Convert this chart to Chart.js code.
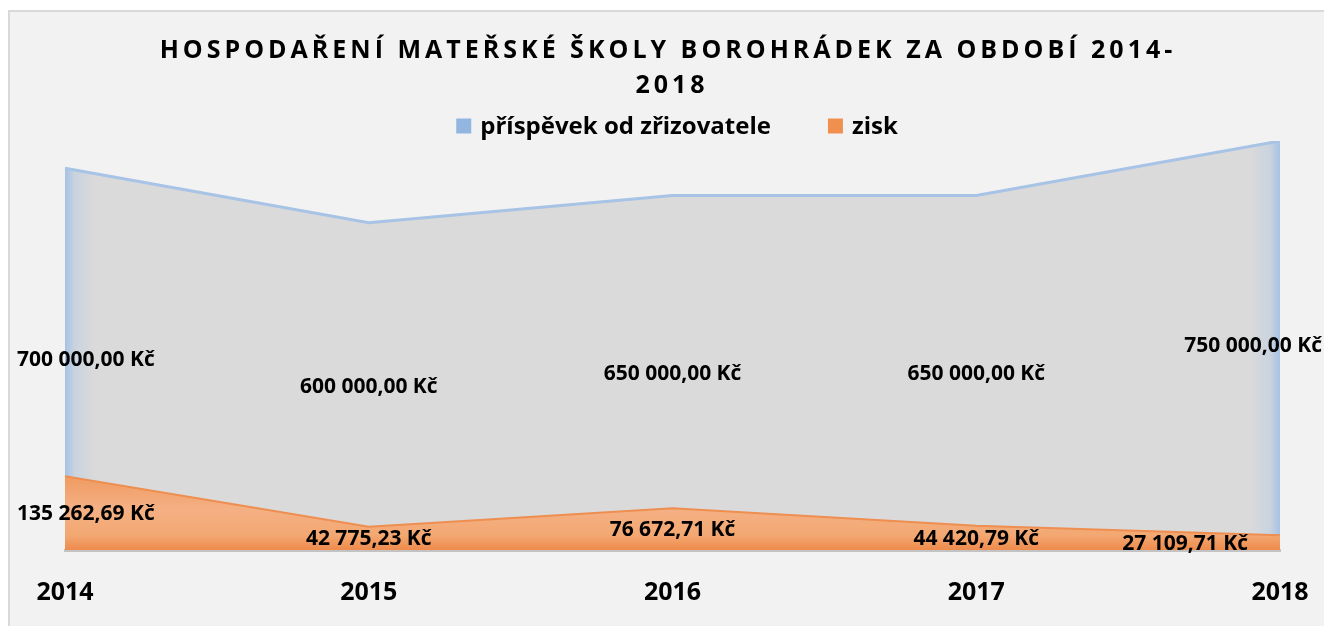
<!DOCTYPE html>
<html lang="cs">
<head>
<meta charset="UTF-8">
<title>Hospodaření MŠ Borohrádek</title>
<script src="https://cdn.jsdelivr.net/npm/chart.js"></script>
<style>
    html, body { margin: 0; padding: 0; background: #fff; overflow: hidden; }
    .box { position: absolute; left: 8px; top: 10px; width: 1320px; height: 620px;
           background: #f2f2f2; border-left: 2px solid #d9d9d9; border-top: 2px solid #d9d9d9; }
</style>
</head>
<body>
<div class="box">
    <canvas id="chart" width="1320" height="620"></canvas>
</div>
<script>
// data
const years = ['2014', '2015', '2016', '2017', '2018'];
const prispevek = [700000, 600000, 650000, 650000, 750000];
const zisk = [135262.69, 42775.23, 76672.71, 44420.79, 27109.71];
const titleLines = ['HOSPODAŘENÍ MATEŘSKÉ ŠKOLY BOROHRÁDEK ZA OBDOBÍ 2014-', '2018'];
const seriesNames = ['příspěvek od zřizovatele', 'zisk'];
const legendColors = ['#92b6df', '#f0904f'];

const FONT = '"Open Sans", sans-serif';

function kc(v) {
    let parts = v.toFixed(2).split('.');
    let whole = parts[0].replace(/\B(?=(\d{3})+(?!\d))/g, ' ');
    return whole + ',' + parts[1] + ' Kč';
}

function blueFill(c) {
    const ca = c.chart.chartArea;
    if (!ca) return '#dadada';
    const g = c.chart.ctx.createLinearGradient(ca.left, 0, ca.right, 0);
    g.addColorStop(0, '#a6c2e4');
    g.addColorStop(0.008, '#c9d3df');
    g.addColorStop(0.025, '#dadada');
    g.addColorStop(0.975, '#dadada');
    g.addColorStop(0.992, '#c9d3df');
    g.addColorStop(1, '#a6c2e4');
    return g;
}

function orangeFill(c) {
    const ca = c.chart.chartArea;
    if (!ca) return '#f4b084';
    const g = c.chart.ctx.createLinearGradient(0, ca.bottom - 75, 0, ca.bottom);
    g.addColorStop(0, '#f09a60');
    g.addColorStop(0.45, '#f4b084');
    g.addColorStop(0.8, '#f3a872');
    g.addColorStop(1, '#ee8b4c');
    return g;
}

// title with letter spacing + legend drawn by hand
const headerPlugin = {
    id: 'header',
    afterDraw(chart) {
        const ctx = chart.ctx;
        const cx = chart.width / 2;
        ctx.save();
        ctx.fillStyle = '#000';
        ctx.textAlign = 'center';
        ctx.textBaseline = 'middle';
        ctx.font = 'bold 25px ' + FONT;
        ctx.letterSpacing = '4px';
        ctx.fillText(titleLines[0], cx - 2, 39);
        ctx.fillText(titleLines[1], cx + 2, 74);
        ctx.letterSpacing = '0px';

        ctx.font = 'bold 24px ' + FONT;
        const box = 15, gap = 9, itemGap = 57;
        const widths = seriesNames.map(n => box + gap + ctx.measureText(n).width);
        const total = widths.reduce((a, b) => a + b, 0) + itemGap * (widths.length - 1);
        let x = cx + 7 - total / 2;
        const y = 114;
        ctx.textAlign = 'left';
        seriesNames.forEach((n, i) => {
            ctx.fillStyle = legendColors[i];
            ctx.fillRect(x, y - box / 2, box, box);
            ctx.fillStyle = '#000';
            ctx.fillText(n, x + box + gap, y + 1);
            x += widths[i] + itemGap;
        });
        ctx.restore();
    }
};

// value labels in the middle of each area
const valueLabels = {
    id: 'valueLabels',
    afterDatasetsDraw(chart) {
        const ctx = chart.ctx;
        const ca = chart.chartArea;
        const base = chart.scales.y.getPixelForValue(0);
        ctx.save();
        ctx.font = 'bold 21px ' + FONT;
        ctx.fillStyle = '#000';
        ctx.textAlign = 'center';
        ctx.textBaseline = 'middle';
        chart.data.datasets.forEach((ds, di) => {
            const meta = chart.getDatasetMeta(di);
            meta.data.forEach((pt, i) => {
                const txt = kc(ds.data[i]);
                const w = ctx.measureText(txt).width;
                const right = di === 0 ? chart.width - 8 : ca.right - 32;
                let x = Math.max(7 + w / 2, Math.min(right - w / 2, pt.x));
                ctx.fillText(txt, x, (pt.y + base) / 2 + 1);
            });
        });
        ctx.restore();
    }
};

new Chart(document.getElementById('chart'), {
    type: 'line',
    data: {
        labels: years,
        datasets: [{
            label: seriesNames[0],
            data: prispevek,
            fill: 'origin',
            backgroundColor: blueFill,
            borderColor: '#a7c3e5',
            borderWidth: 3,
            pointRadius: 0,
            tension: 0,
            order: 1
        }, {
            label: seriesNames[1],
            data: zisk,
            fill: 'origin',
            backgroundColor: orangeFill,
            borderColor: '#ee8e50',
            borderWidth: 2,
            pointRadius: 0,
            tension: 0,
            order: 0
        }]
    },
    options: {
        responsive: false,
        animation: false,
        devicePixelRatio: 1,
        layout: { padding: { top: 129, left: 55, right: 50, bottom: 4 } },
        plugins: {
            legend: { display: false },
            title: { display: false },
            tooltip: { enabled: false }
        },
        scales: {
            x: {
                offset: false,
                grid: { display: false },
                border: { display: true, color: '#c3c3c3', width: 3 },
                ticks: {
                    color: '#000',
                    padding: 20,
                    font: { family: FONT, size: 25, weight: 'bold' }
                }
            },
            y: {
                display: false,
                min: 0,
                max: 750000
            }
        }
    },
    plugins: [headerPlugin, valueLabels]
});
</script>
</body>
</html>
